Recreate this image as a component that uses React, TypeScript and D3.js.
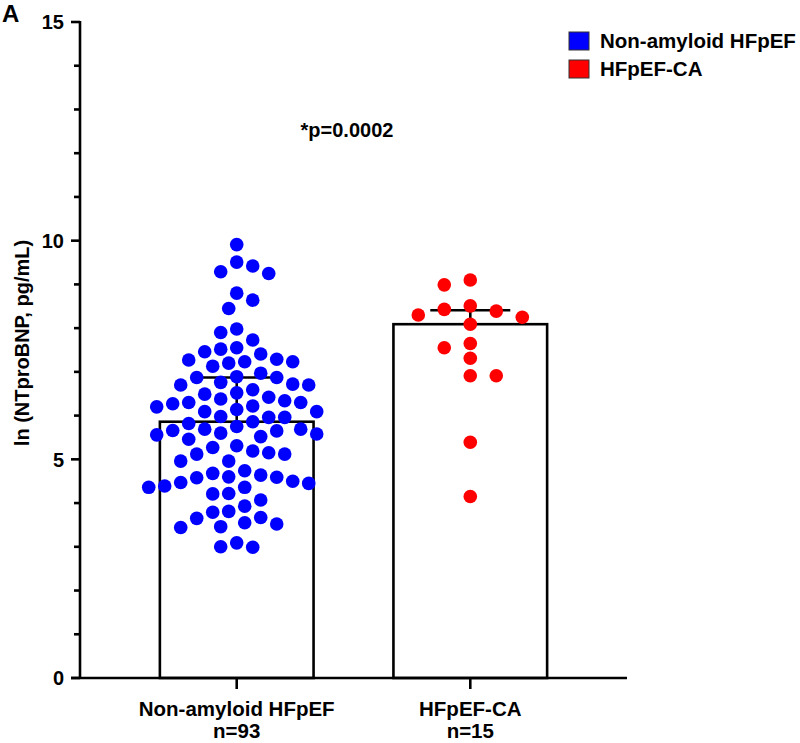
import * as d3 from 'd3';

// groups shown on the x axis
const groups = ['Non-amyloid HFpEF', 'HFpEF-CA'];
const groupCounts = ['n=93', 'n=15'];
const groupColors = ['#0000ff', '#ff0000'];

// ln(NTproBNP) of each patient
const nonAmyloid = [
  9.91, 9.51, 9.25, 9.29, 9.42, 8.64, 8.8, 8.45, 7.98, 7.9, 7.73, 7.55, 7.41, 7.52, 7.46,
  7.27, 7.29, 7.23, 7.23, 7.2, 7.13, 6.97, 6.87, 6.89, 6.87, 6.76, 6.7, 6.72, 6.7,
  6.59, 6.52, 6.42, 6.38, 6.49, 6.3, 6.27, 6.22, 6.2, 6.3, 6.34, 6.14, 6.09, 6.09,
  5.96, 5.98, 5.96, 5.82, 5.86, 5.75, 5.69, 5.69, 5.66, 5.65, 5.58, 5.6, 5.56, 5.52,
  5.46, 5.31, 5.27, 5.19, 5.12, 5.15, 5.12, 4.96, 4.96, 4.74, 4.68, 4.64, 4.6, 4.5,
  4.59, 4.58, 4.36, 4.39, 4.36, 4.45, 4.47, 4.22, 4.21, 4.07, 3.93, 3.81, 3.79, 3.67,
  3.65, 3.55, 3.52, 3.44, 3.46, 3.09, 3.0, 2.99,
];
const amyloid = [
  8.99, 9.1, 8.39, 8.43, 8.51, 8.25, 8.3, 8.09, 7.65, 7.55, 7.31, 6.91, 6.91, 5.39, 4.15,
];
const seriesValues = [nonAmyloid, amyloid];

const yMajorTicks = [0, 5, 10, 15];
const yMinorTicks = [1, 2, 3, 4, 6, 7, 8, 9, 11, 12, 13, 14];
const yTitle = 'ln (NTproBNP, pg/mL)';
const pLabel = '*p=0.0002';
const panelLabel = 'A';

const W = 800;
const H = 743;
const FONT = '"Liberation Sans", Arial, Helvetica, sans-serif';

// greedy beeswarm: sorted from the top, each dot takes the nearest free slot.
// a / b are the horizontal / vertical clearance between dot centres
function swarm(values: number[], y: (v: number) => number, step: number, a: number, b: number) {
  const order = d3.range(values.length).sort((p, q) => values[q] - values[p]);
  const placed: { x: number; y: number }[] = [];
  const out: number[] = new Array(values.length).fill(0);
  order.forEach((i, n) => {
    const py = y(values[i]);
    for (let k = 0; k < 60; k++) {
      const off = k === 0 ? 0 : Math.ceil(k / 2) * step * ((k + n) % 2 ? 1 : -1);
      const free = placed.every(p => ((p.x - off) / a) ** 2 + ((p.y - py) / b) ** 2 >= 0.999);
      if (free) {
        out[i] = off;
        placed.push({ x: off, y: py });
        break;
      }
    }
  });
  return out;
}

const App = () => {
  const axisX = 80;
  const y = d3.scaleLinear().domain([0, 15]).range([678, 22]);
  const x = d3.scaleBand().domain(groups).range([axisX, 627]).paddingInner(0.342).paddingOuter(0.342);
  const bw = x.bandwidth();

  const stats = seriesValues.map(vals => {
    const sorted = [...vals].sort(d3.ascending);
    return { median: d3.median(sorted) as number, q3: d3.quantile(sorted, 0.75) as number };
  });

  const offsets = [swarm(nonAmyloid, y, 8, 15.5, 15.5), swarm(amyloid, y, 13, 26, 14.5)];

  const sw = 2.6;

  return (
    <svg width={W} height={H} style={{ position: 'absolute', left: 0, top: 0, background: '#fff' }}
      fontFamily={FONT} fontWeight="bold">
      <text x={2} y={22} fontSize={24}>{panelLabel}</text>

      {/* bars: median */}
      {groups.map((g, i) => (
        <rect key={g} x={x(g)} y={y(stats[i].median)} width={bw} height={y(0) - y(stats[i].median)}
          fill="#fff" stroke="#000" strokeWidth={sw} />
      ))}

      {/* upper interquartile whisker */}
      {groups.map((g, i) => {
        const cx = (x(g) as number) + bw / 2;
        return (
          <g key={g} stroke="#000" strokeWidth={sw}>
            <line x1={cx} x2={cx} y1={y(stats[i].median)} y2={y(stats[i].q3)} />
            <line x1={cx - 40} x2={cx + 40} y1={y(stats[i].q3)} y2={y(stats[i].q3)} />
          </g>
        );
      })}

      {/* y axis */}
      <g stroke="#000" strokeWidth={sw}>
        <line x1={axisX} x2={axisX} y1={y(15) - 1} y2={y(0)} />
        {yMajorTicks.map(t => <line key={t} x1={axisX - 9} x2={axisX} y1={y(t)} y2={y(t)} />)}
        {yMinorTicks.map(t => <line key={t} x1={axisX - 6} x2={axisX} y1={y(t)} y2={y(t)} />)}
      </g>
      {yMajorTicks.map(t => (
        <text key={t} x={axisX - 16} y={y(t)} dy="0.36em" textAnchor="end" fontSize={20}>{t}</text>
      ))}
      <text transform={`translate(22,${343}) rotate(-90)`} textAnchor="middle" dy="0.36em" fontSize={20}>{yTitle}</text>

      {/* x axis */}
      <g stroke="#000" strokeWidth={sw}>
        <line x1={axisX - 9} x2={627} y1={y(0)} y2={y(0)} />
        {groups.map(g => {
          const cx = (x(g) as number) + bw / 2;
          return <line key={g} x1={cx} x2={cx} y1={y(0)} y2={y(0) + 11} />;
        })}
      </g>
      {groups.map((g, i) => {
        const cx = (x(g) as number) + bw / 2;
        return (
          <g key={g} fontSize={20.5} textAnchor="middle">
            <text x={cx} y={716}>{g}</text>
            <text x={cx} y={738}>{groupCounts[i]}</text>
          </g>
        );
      })}

      {/* dots */}
      {seriesValues.map((vals, gi) => {
        const cx = (x(groups[gi]) as number) + bw / 2;
        return (
          <g key={gi} fill={groupColors[gi]}>
            {vals.map((v, j) => <circle key={j} cx={cx + offsets[gi][j]} cy={y(v)} r={6.8} />)}
          </g>
        );
      })}

      <text x={347} y={137} textAnchor="middle" fontSize={20}>{pLabel}</text>

      {/* legend */}
      {groups.map((g, i) => (
        <g key={g}>
          <rect x={569} y={32 + i * 28} width={20} height={18} fill={groupColors[i]} stroke="#333" strokeWidth={1} />
          <text x={600} y={48 + i * 27.5} fontSize={20.5}>{g}</text>
        </g>
      ))}
    </svg>
  );
};

export default App;
